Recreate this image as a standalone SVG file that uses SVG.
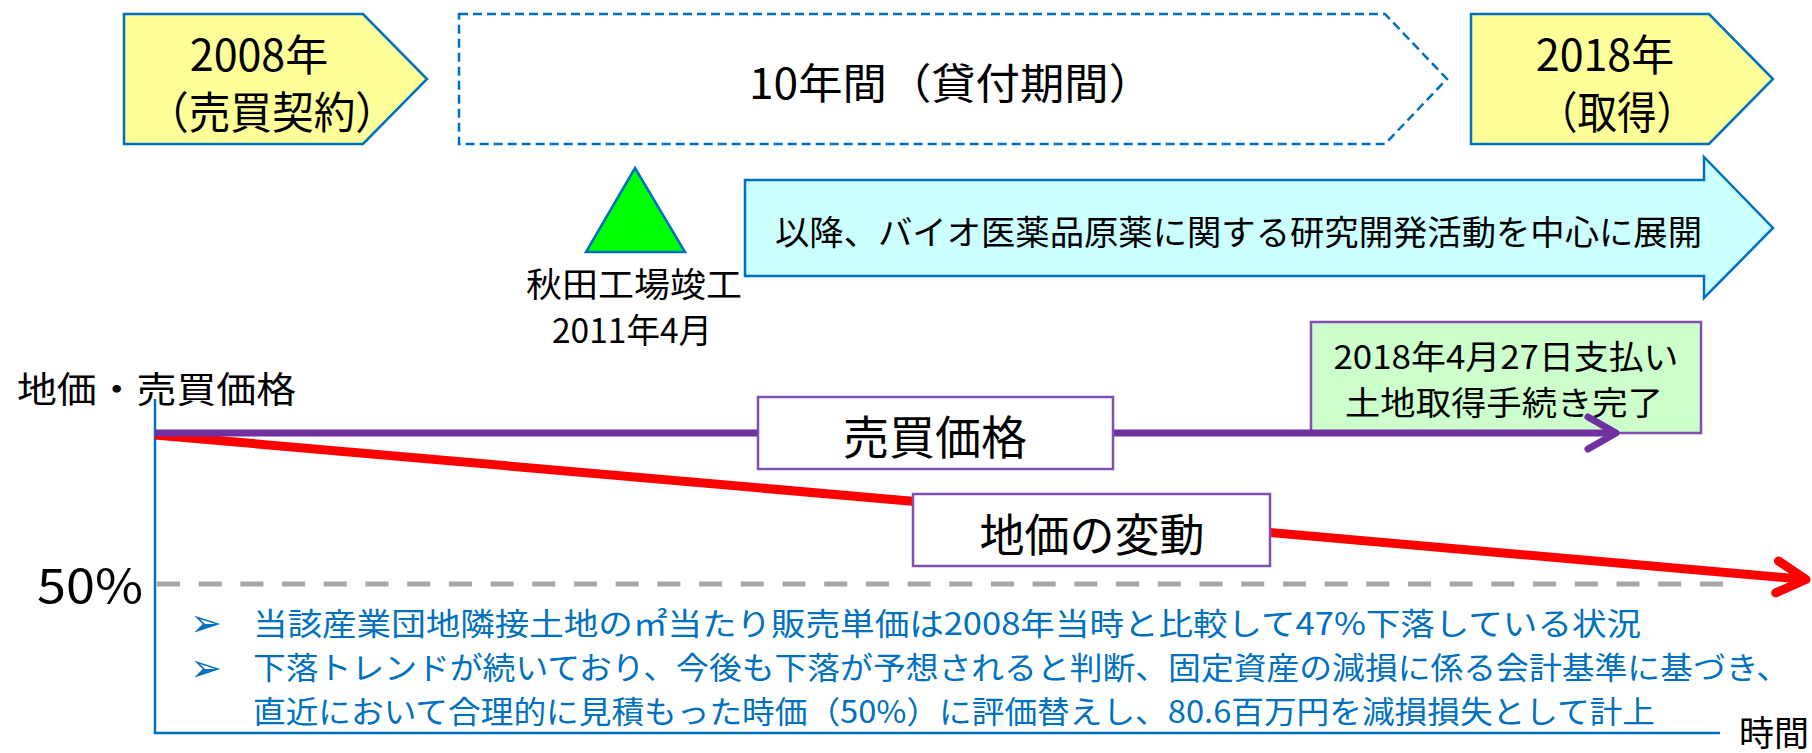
<svg xmlns="http://www.w3.org/2000/svg" width="1812" height="753" viewBox="0 0 1812 753">
  <style>
    .t { font-family: "Noto Sans CJK JP", "Noto Sans", sans-serif; fill: #000; }
    .c { text-anchor: middle; }
    .note { font-family: "Noto Sans CJK JP", "Noto Sans", sans-serif; fill: #0070C0; font-size: 31px; }
    .bul { font-family: "DejaVu Sans", sans-serif; fill: #0070C0; font-size: 38px; font-weight: bold; }
    .tag { fill: #FFFF99; stroke: #0070C0; stroke-width: 2.5; }
    .lbl { fill: #FFFFFF; stroke: #7F4FB3; stroke-width: 2.5; }
    .axis { stroke: #0070C0; stroke-width: 2.5; fill: none; }
  </style>
  <defs>
    <marker id="arrPurple" markerUnits="userSpaceOnUse" viewBox="-36 -24 44 48" markerWidth="44" markerHeight="48" refX="0" refY="0" orient="auto">
      <path d="M-28,-16 L0,0 L-28,16" fill="none" stroke="#7030A0" stroke-width="7" stroke-linecap="round" stroke-linejoin="round"/>
    </marker>
    <marker id="arrRed" markerUnits="userSpaceOnUse" viewBox="-38 -26 46 52" markerWidth="46" markerHeight="52" refX="0" refY="0" orient="auto">
      <path d="M-29,-16 L0,0 L-29,16" fill="none" stroke="#FF0000" stroke-width="9" stroke-linecap="round" stroke-linejoin="round"/>
    </marker>
  </defs>
  <rect width="1812" height="753" fill="#FFFFFF"/>

  <g id="node-2008">
    <polygon class="tag" points="124,14 363,14 427,79 363,144 124,144"/>
    <text class="t c" x="259" y="71" font-size="43">2008年</text>
    <text class="t" x="147" y="129" font-size="44" textLength="250" lengthAdjust="spacingAndGlyphs">（売買契約）</text>
  </g>

  <g id="node-period">
    <polygon points="459,14 1385,14 1447,79 1385,144 459,144" fill="none" stroke="#0070C0" stroke-width="2.5" stroke-dasharray="9 5"/>
    <text class="t" x="749" y="99" font-size="42" textLength="404" lengthAdjust="spacingAndGlyphs">10年間（貸付期間）</text>
  </g>

  <g id="node-2018">
    <polygon class="tag" points="1471,14 1709,14 1773,79 1709,144 1471,144"/>
    <text class="t c" x="1605" y="71" font-size="43">2018年</text>
    <text class="t" x="1538" y="129" font-size="44" textLength="158" lengthAdjust="spacingAndGlyphs">（取得）</text>
  </g>

  <g id="node-akita">
    <polygon points="635,168 685,252 586,252" fill="#00FF00" stroke="#0070C0" stroke-width="2.5"/>
    <text class="t c" x="634" y="297" font-size="34" textLength="216" lengthAdjust="spacingAndGlyphs">秋田工場竣工</text>
    <text class="t c" x="632" y="343" font-size="34" textLength="160" lengthAdjust="spacingAndGlyphs">2011年4月</text>
  </g>

  <g id="node-rd">
    <polygon points="745,180 1704,180 1704,157 1773,228 1704,298 1704,276 745,276" fill="#CCFFFF" stroke="#0070C0" stroke-width="2.5"/>
    <text class="t" x="775" y="245" font-size="34" textLength="927" lengthAdjust="spacingAndGlyphs">以降、バイオ医薬品原薬に関する研究開発活動を中心に展開</text>
  </g>

  <g id="node-payment">
    <rect x="1311" y="322" width="390" height="111" fill="#CCFFCC" stroke="#7F4FB3" stroke-width="2.5"/>
    <text class="t c" x="1506" y="369" font-size="33" textLength="345" lengthAdjust="spacingAndGlyphs">2018年4月27日支払い</text>
    <text class="t c" x="1504" y="415" font-size="33" textLength="318" lengthAdjust="spacingAndGlyphs">土地取得手続き完了</text>
  </g>

  <g id="axes">
    <text class="t" x="17" y="403" font-size="36" textLength="279" lengthAdjust="spacingAndGlyphs">地価・売買価格</text>
    <polyline class="axis" points="155,399 155,733 1720,733"/>
    <text class="t" x="1739" y="746" font-size="35">時間</text>
    <text class="t" x="37" y="603" font-size="47" textLength="106" lengthAdjust="spacingAndGlyphs">50%</text>
    <line x1="157" y1="584" x2="1735" y2="584" stroke="#A6A6A6" stroke-width="5" stroke-dasharray="23 18.7"/>
  </g>

  <g id="connectors">
    <line id="land-price-line" x1="155" y1="435" x2="1806" y2="579.5" stroke="#FF0000" stroke-width="9" marker-end="url(#arrRed)"/>
    <line id="sale-price-line" x1="155" y1="433" x2="1616" y2="433" stroke="#7030A0" stroke-width="7" marker-end="url(#arrPurple)"/>
  </g>

  <g id="node-sale-price">
    <rect class="lbl" x="758" y="397" width="355" height="72"/>
    <text class="t c" x="935" y="454" font-size="46">売買価格</text>
  </g>

  <g id="node-land-price">
    <rect class="lbl" x="913" y="494" width="357" height="72"/>
    <text class="t c" x="1092" y="552" font-size="45">地価の変動</text>
  </g>

  <g id="notes">
    <text class="bul" x="190" y="636">➢</text>
    <text class="note" x="253" y="635" textLength="1388" lengthAdjust="spacingAndGlyphs">当該産業団地隣接土地の㎡当たり販売単価は2008年当時と比較して47%下落している状況</text>
    <text class="bul" x="190" y="681">➢</text>
    <text class="note" x="253" y="679" textLength="1536" lengthAdjust="spacingAndGlyphs">下落トレンドが続いており、今後も下落が予想されると判断、固定資産の減損に係る会計基準に基づき、</text>
    <text class="note" x="253" y="723" textLength="1402" lengthAdjust="spacingAndGlyphs">直近において合理的に見積もった時価（50%）に評価替えし、80.6百万円を減損損失として計上</text>
  </g>
</svg>
